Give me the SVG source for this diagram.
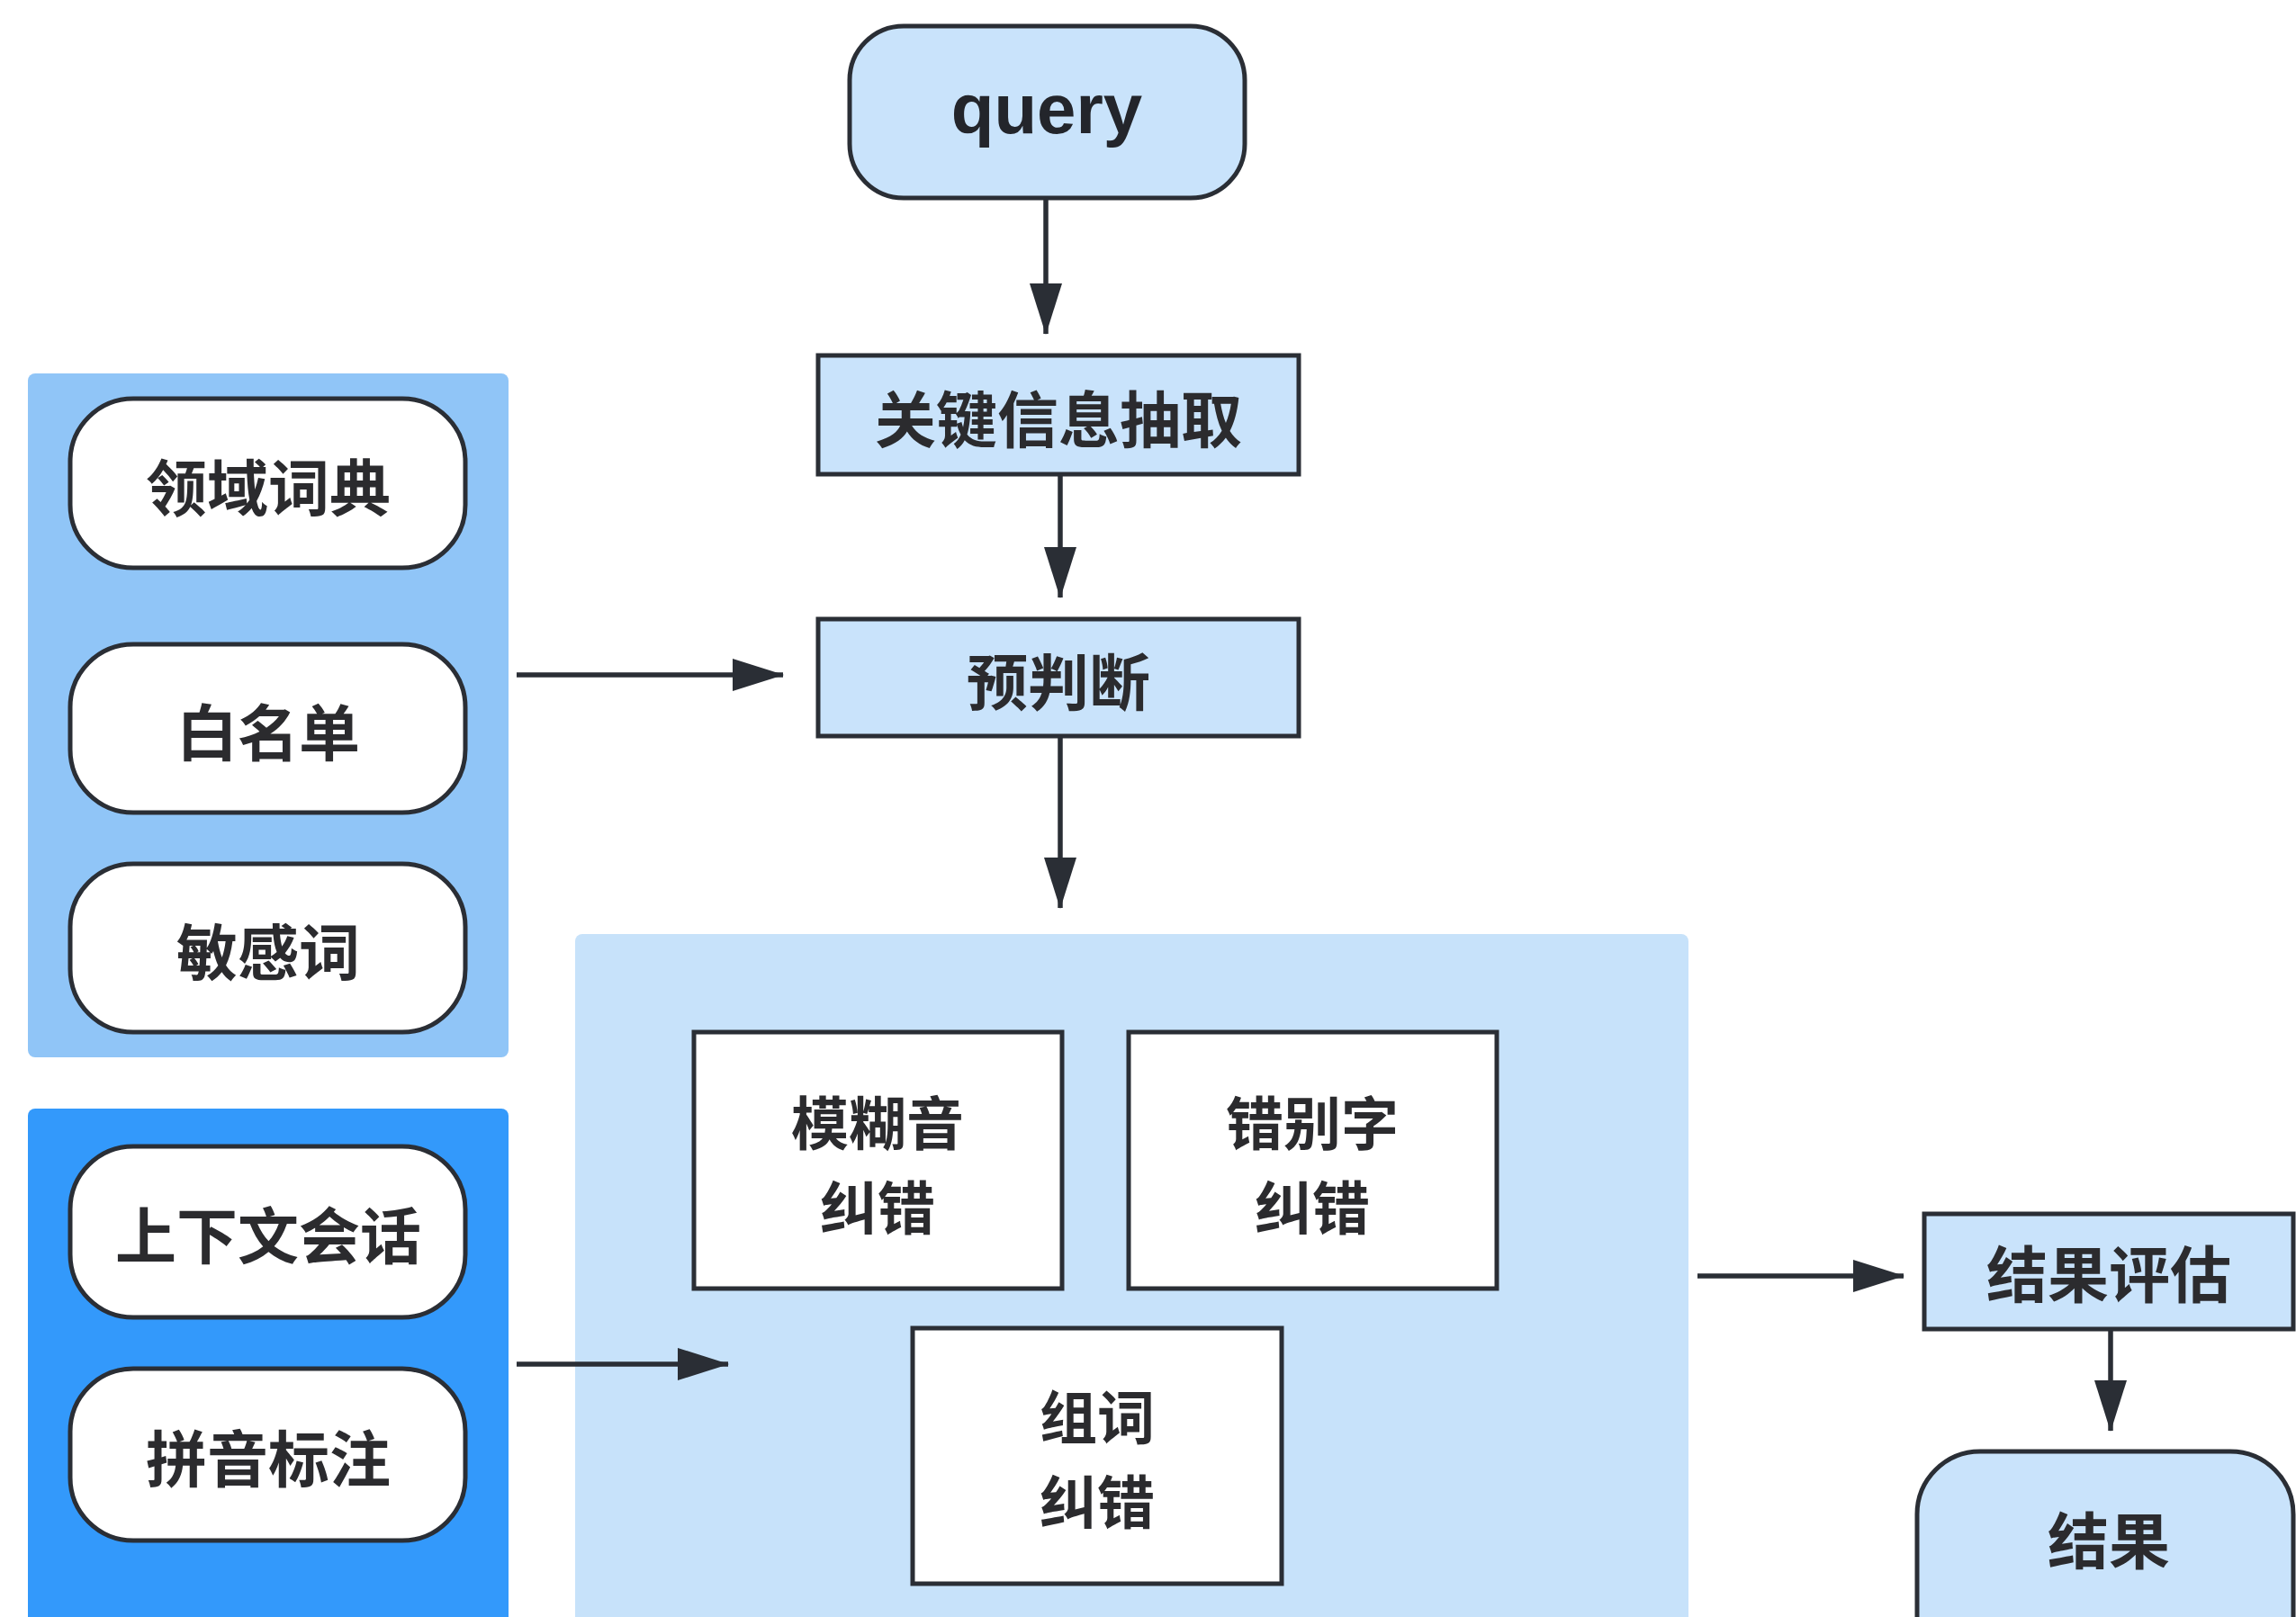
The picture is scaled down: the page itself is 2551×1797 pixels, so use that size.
<svg xmlns="http://www.w3.org/2000/svg" width="2551" height="1797" viewBox="0 0 2551 1797">
<style>
.node{stroke:#2a2e35;stroke-width:5}
.blue{fill:#c9e3fb}
.white{fill:#ffffff}
.t{font-family:"Noto Sans CJK SC","Liberation Sans",sans-serif;font-weight:700;font-size:68px;fill:#2b2b2e;text-anchor:middle;dominant-baseline:central}
.t2{font-size:64px}
.q{font-family:"Liberation Sans",Arial,sans-serif;font-weight:700;font-size:78px;fill:#23252b;text-anchor:middle}
.edge{stroke:#2a2e35;stroke-width:5.5;fill:none;marker-end:url(#ah)}
</style>
<defs>
<marker id="ah" markerUnits="userSpaceOnUse" markerWidth="58" markerHeight="38" refX="56" refY="18" orient="auto">
<path d="M0,0 L57,18 L0,36 z" fill="#2a2e35"/>
</marker>
</defs>
<rect width="2551" height="1797" fill="#ffffff"/>
<g id="groups">
<rect id="group-dict" x="31" y="415" width="534" height="760" rx="8" fill="#90c5f7"/>
<rect id="group-context" x="31" y="1232" width="534" height="580" rx="8" fill="#3399fb"/>
<rect id="group-correct" x="639" y="1038" width="1237" height="780" rx="8" fill="#c7e2fa"/>
</g>
<g id="connectors">
<line class="edge" x1="1162" y1="220" x2="1162" y2="371"/>
<line class="edge" x1="1178" y1="527" x2="1178" y2="664"/>
<line class="edge" x1="1178" y1="818" x2="1178" y2="1009"/>
<line class="edge" x1="574" y1="750" x2="870" y2="750"/>
<line class="edge" x1="574" y1="1516" x2="809" y2="1516"/>
<line class="edge" x1="1886" y1="1418" x2="2115" y2="1418"/>
<line class="edge" x1="2345" y1="1477" x2="2345" y2="1590"/>
</g>
<g id="node-query">
<rect class="node blue" x="944" y="29" width="439" height="191" rx="60"/>
<text class="q" x="1163" y="148">query</text>
</g>
<g id="node-extract">
<rect class="node blue" x="909" y="395" width="534" height="132"/>
<text class="t" x="1176" y="462">关键信息抽取</text>
</g>
<g id="node-prejudge">
<rect class="node blue" x="909" y="688" width="534" height="130"/>
<text class="t" x="1176" y="754">预判断</text>
</g>
<g id="node-dict">
<rect class="node white" x="78" y="443" width="439" height="188" rx="70"/>
<text class="t" x="298" y="538">领域词典</text>
</g>
<g id="node-whitelist">
<rect class="node white" x="78" y="716" width="439" height="187" rx="70"/>
<text class="t" x="298" y="810">白名单</text>
</g>
<g id="node-sensitive">
<rect class="node white" x="78" y="960" width="439" height="187" rx="70"/>
<text class="t" x="298" y="1054">敏感词</text>
</g>
<g id="node-context">
<rect class="node white" x="78" y="1274" width="439" height="190" rx="70"/>
<text class="t" x="298" y="1369">上下文会话</text>
</g>
<g id="node-pinyin">
<rect class="node white" x="78" y="1521" width="439" height="191" rx="70"/>
<text class="t" x="298" y="1617">拼音标注</text>
</g>
<g id="node-fuzzy">
<rect class="node white" x="771" y="1147" width="409" height="285"/>
<text class="t t2"><tspan x="975" y="1244">模糊音</tspan><tspan x="975" y="1338">纠错</tspan></text>
</g>
<g id="node-typo">
<rect class="node white" x="1254" y="1147" width="409" height="285"/>
<text class="t t2"><tspan x="1458" y="1244">错别字</tspan><tspan x="1458" y="1338">纠错</tspan></text>
</g>
<g id="node-word">
<rect class="node white" x="1014" y="1476" width="410" height="284"/>
<text class="t t2"><tspan x="1219" y="1571">组词</tspan><tspan x="1219" y="1665">纠错</tspan></text>
</g>
<g id="node-eval">
<rect class="node blue" x="2138" y="1349" width="410" height="128"/>
<text class="t" x="2343" y="1412">结果评估</text>
</g>
<g id="node-result">
<rect class="node blue" x="2130" y="1613" width="418" height="260" rx="70"/>
<text class="t" x="2343" y="1708">结果</text>
</g>
</svg>
